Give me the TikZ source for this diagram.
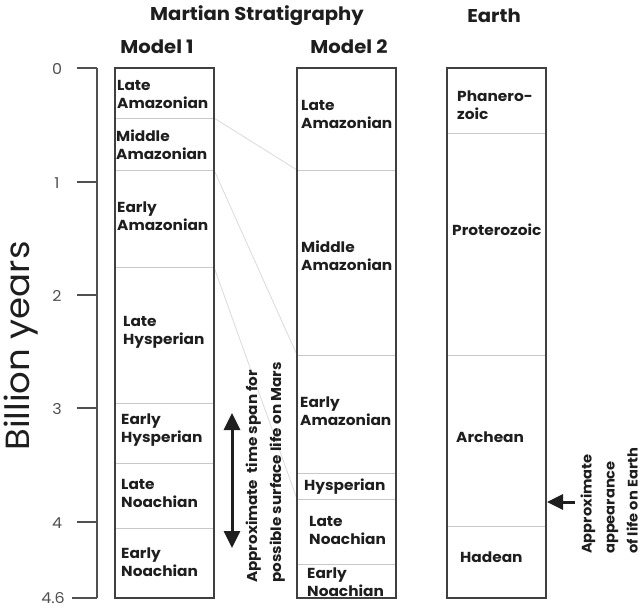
\documentclass[tikz,border=0pt]{standalone}
\usepackage{fontspec}
\setmainfont{Poppins}[FakeStretch=1.06]
\usetikzlibrary{arrows.meta}
\definecolor{ink}{HTML}{1E1E1E}
\definecolor{boxline}{HTML}{404040}
\definecolor{divline}{HTML}{C8C8C8}
\definecolor{connline}{HTML}{DADADA}
\definecolor{tickgray}{HTML}{505050}
\begin{document}
\begin{tikzpicture}[x=1pt,y=-1pt,
  lbl/.style={font=\bfseries\fontsize{14.5}{18}\selectfont, align=left, anchor=west, inner sep=0pt, text=ink},
  ttl/.style={font=\bfseries\fontsize{18.5}{20}\selectfont, inner sep=0pt, text=ink},
  ticklbl/.style={font=\fontsize{15}{16}\selectfont, inner sep=0pt, text=tickgray},
  colbox/.style={draw=boxline, line width=1.4pt},
  divider/.style={draw=divline, line width=0.9pt},
  conn/.style={draw=connline, line width=0.8pt},
  notel/.style={font=\bfseries\fontsize{14.3}{24}\selectfont, align=left, inner sep=0pt, text=ink, rotate=90},
  noter/.style={font=\bfseries\fontsize{13.8}{23}\selectfont, align=left, inner sep=0pt, text=ink, rotate=90},
  bigarrow/.style={line width=3pt, draw=ink, -{Triangle[length=16pt,width=15pt]}},
  dblarrow/.style={line width=3pt, draw=ink, {Triangle[length=17pt,width=16pt]}-{Triangle[length=17pt,width=16pt]}}
]
\useasboundingbox (0,0) rectangle (644,608);

% titles
\node[ttl] (tmars) at (257,16) {Martian Stratigraphy};
\node[ttl] (tearth) at (494,16) {Earth};
\node[ttl] (tm1) at (157,47) {Model 1};
\node[ttl] (tm2) at (349,47) {Model 2};

% axis
\node[font=\fontsize{33.5}{36}\selectfont, text=ink, rotate=90, inner sep=0pt] (ylabel) at (21,346) {Billion years};
\coordinate (ax0) at (97,68);
\coordinate (ax46) at (97,598);
\draw[line width=1.3pt, draw=tickgray] (ax0) -- (ax46);
\foreach \v/\y in {0/68,1/182,2/295,3/408,4/522}{
  \draw[line width=1.3pt, draw=tickgray] (77,\y) -- (97,\y);
  \node[ticklbl] (tick\v) at (57,\y+1) {\v};
}
\draw[line width=1.3pt, draw=tickgray] (72,598) -- (97,598);
\node[ticklbl] (tick46) at (53,598) {4.6};

% connectors between models
\coordinate (m1a) at (214,118);
\coordinate (m1b) at (214,170);
\coordinate (m1c) at (214,267);
\coordinate (m2a) at (297,170);
\coordinate (m2b) at (297,355);
\coordinate (m2c) at (297,499);
\draw[conn] (m1a) -- (m2a);
\draw[conn] (m1b) -- (m2b);
\draw[conn] (m1c) -- (m2c);

% Model 1 column
\foreach \y in {118,170,267,403,463,528}{\draw[divider] (115,\y) -- (214,\y);}
\draw[colbox] (115,68) rectangle (214,598);
\node[lbl] (m1la) at (117,94) {Late\\Amazonian};
\node[lbl] (m1ma) at (116,145) {Middle\\Amazonian};
\node[lbl] (m1ea) at (117,216) {Early\\Amazonian};
\node[lbl] (m1lh) at (123,332) {Late\\Hysperian};
\node[lbl] (m1eh) at (121,430) {Early\\Hysperian};
\node[lbl] (m1ln) at (121,493) {Late\\Noachian};
\node[lbl] (m1en) at (121,562) {Early\\Noachian};

% Model 2 column
\foreach \y in {170,355,473,499,564}{\draw[divider] (297,\y) -- (396,\y);}
\draw[colbox] (297,68) rectangle (396,598);
\node[lbl] (m2la) at (301,114) {Late\\Amazonian};
\node[lbl] (m2ma) at (301,256) {Middle\\Amazonian};
\node[lbl] (m2ea) at (300,411) {Early\\Amazonian};
\node[lbl] (m2h) at (304,487) {Hysperian};
\node[lbl] (m2ln) at (309,530) {Late\\Noachian};
\node[lbl] (m2en) at (307,582) {Early\\Noachian};

% Earth column
\foreach \y in {133,355,526}{\draw[divider] (447,\y) -- (546,\y);}
\draw[colbox] (447,68) rectangle (546,598);
\node[lbl] (ph) at (457,105) {Phanero-\\zoic};
\node[lbl] (pr) at (452,230) {Proterozoic};
\node[lbl] (ar) at (456,437) {Archean};
\node[lbl] (ha) at (460,557) {Hadean};

% Mars life span
\coordinate (spantop) at (232,413);
\coordinate (spanbot) at (232,548);
\draw[dblarrow] (spanbot) -- (spantop);
\node[notel, anchor=south west] (marsnote) at (285,583) {Approximate \ time span for\\possible surface life on Mars};

% Earth life
\coordinate (etail) at (575,502);
\coordinate (etip) at (547,502);
\draw[bigarrow] (etail) -- (etip);
\node[noter, anchor=south west] (earthnote) at (638,554) {Approximate\\appearance\\of life on Earth};
\end{tikzpicture}
\end{document}
